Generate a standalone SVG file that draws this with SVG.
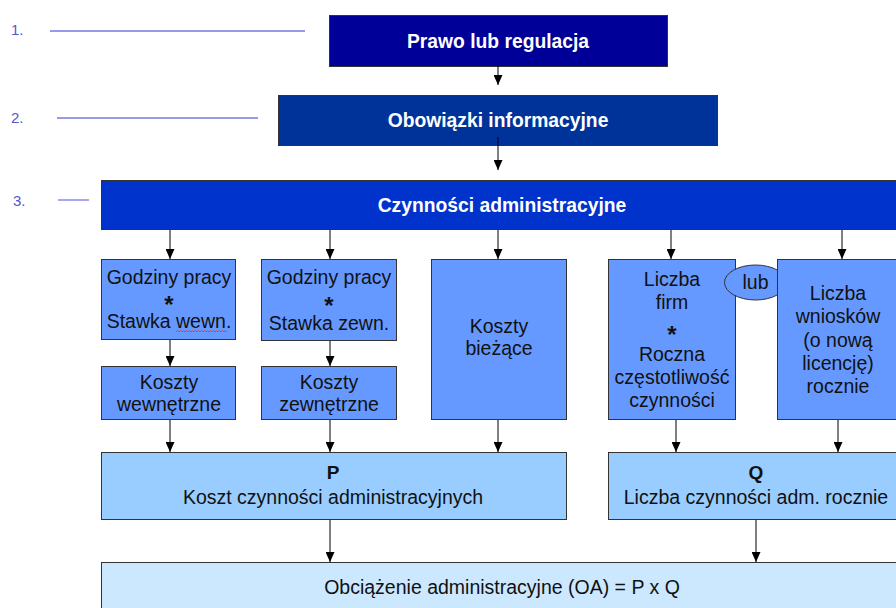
<svg xmlns="http://www.w3.org/2000/svg" width="896" height="608" viewBox="0 0 896 608">
<defs>
<marker id="ah" markerUnits="userSpaceOnUse" markerWidth="10" markerHeight="9" refX="10" refY="4.5" orient="auto" viewBox="0 0 10 9">
<path d="M0,0 L10,4.5 L0,9 Z" fill="#000"/>
</marker>
</defs>
<style>
text{font-family:"Liberation Sans",Arial,sans-serif;text-anchor:middle}
.hd{fill:#fff;font-weight:bold;font-size:19.3px}
.t{fill:#111;font-size:19.5px}
.star{fill:#111;font-size:24px;font-weight:bold}
.b{fill:#111;font-size:19px;font-weight:bold}
.box{fill:#6699FF;stroke:#333;stroke-width:1}
.pq{fill:#99CCFF;stroke:#333;stroke-width:1}
.oa{fill:#CCE8FF;stroke:#333;stroke-width:1}
.num{fill:#5555CC;font-size:15px;text-anchor:start}
.lvl{stroke:#7777E6;stroke-width:1.3}
.c line{stroke:#000;stroke-width:1;marker-end:url(#ah)}
</style>
<rect width="896" height="608" fill="#fff"/>
<g id="levels">
<text class="num" x="11" y="35">1.</text>
<line class="lvl" x1="50" y1="31" x2="305" y2="31"/>
<text class="num" x="11" y="123">2.</text>
<line class="lvl" x1="57" y1="118" x2="258" y2="118"/>
<text class="num" x="13" y="206">3.</text>
<line class="lvl" x1="58" y1="200" x2="89" y2="200"/>
</g>
<g id="prawo"><rect x="329.5" y="15.5" width="338" height="51" fill="#000099" stroke="#333"/><text class="hd" x="498" y="48">Prawo lub regulacja</text></g>
<g id="obowiazki"><rect x="278.5" y="95.5" width="439" height="50" fill="#003399" stroke="#333"/><text class="hd" x="498" y="127">Obowiązki informacyjne</text></g>
<g id="czynnosci"><rect x="101.5" y="180.5" width="800" height="49" fill="#0033CC" stroke="#333"/><text class="hd" x="502" y="212">Czynności administracyjne</text></g>
<g id="godz-wewn"><rect class="box" x="101.5" y="259.5" width="134" height="80"/>
<text class="t" x="169" y="284">Godziny pracy</text><text class="star" x="169" y="313">*</text><text class="t" x="169" y="328">Stawka wewn.</text>
<path d="M176,332 l1.5,-1.5 l1.5,1.5 l1.5,-1.5 l1.5,1.5 l1.5,-1.5 l1.5,1.5 l1.5,-1.5 l1.5,1.5 l1.5,-1.5 l1.5,1.5 l1.5,-1.5 l1.5,1.5 l1.5,-1.5 l1.5,1.5 l1.5,-1.5 l1.5,1.5 l1.5,-1.5 l1.5,1.5 l1.5,-1.5 l1.5,1.5 l1.5,-1.5 l1.5,1.5 l1.5,-1.5 l1.5,1.5 l1.5,-1.5 l1.5,1.5 l1.5,-1.5 l1.5,1.5 l1.5,-1.5 l1.5,1.5 l1.5,-1.5 l1.5,1.5 l1.5,-1.5 l1.5,1.5" fill="none" stroke="#E03030" stroke-width="0.8"/></g>
<g id="godz-zewn"><rect class="box" x="261.5" y="259.5" width="135" height="81"/>
<text class="t" x="329" y="284">Godziny pracy</text><text class="star" x="329" y="314">*</text><text class="t" x="329" y="330">Stawka zewn.</text></g>
<g id="koszty-biezace"><rect class="box" x="431.5" y="259.5" width="135" height="160"/>
<text class="t" x="499" y="333">Koszty</text><text class="t" x="499" y="355">bieżące</text></g>
<g id="liczba-firm"><rect class="box" x="608.5" y="259.5" width="127" height="160"/>
<text class="t" x="672" y="286">Liczba</text><text class="t" x="672" y="309">firm</text><text class="star" x="672" y="343">*</text><text class="t" x="672" y="361">Roczna</text><text class="t" x="672" y="384">częstotliwość</text><text class="t" x="672" y="407">czynności</text></g>
<g id="lub"><ellipse cx="755.5" cy="282.5" rx="31" ry="17.5" fill="#6699FF" stroke="#333"/><text class="t" x="755.5" y="289">lub</text></g>
<g id="liczba-wnioskow"><rect class="box" x="777.5" y="259.5" width="125" height="160"/>
<text class="t" x="838" y="300">Liczba</text><text class="t" x="838" y="323">wniosków</text><text class="t" x="838" y="347">(o nową</text><text class="t" x="838" y="370">licencję)</text><text class="t" x="838" y="393">rocznie</text></g>
<g id="koszty-wewn"><rect class="box" x="101.5" y="366.5" width="134" height="53"/>
<text class="t" x="169" y="389">Koszty</text><text class="t" x="169" y="411">wewnętrzne</text></g>
<g id="koszty-zewn"><rect class="box" x="261.5" y="366.5" width="135" height="53"/>
<text class="t" x="329" y="389">Koszty</text><text class="t" x="329" y="411">zewnętrzne</text></g>
<g id="P"><rect class="pq" x="101.5" y="452.5" width="465" height="67"/>
<text class="b" x="333" y="479">P</text><text class="t" x="333" y="504">Koszt czynności administracyjnych</text></g>
<g id="Q"><rect class="pq" x="608.5" y="452.5" width="294" height="67"/>
<text class="b" x="756" y="479">Q</text><text class="t" x="756" y="504">Liczba czynności adm. rocznie</text></g>
<g id="OA"><rect class="oa" x="101.5" y="562.5" width="800" height="50"/>
<text class="t" x="502" y="594">Obciążenie administracyjne (OA)  = P x Q</text></g>
<g id="connectors" class="c">
<line x1="498" y1="66" x2="498" y2="85"/>
<line x1="498" y1="137" x2="498" y2="170"/>
<line x1="170" y1="230" x2="170" y2="259"/>
<line x1="330" y1="230" x2="330" y2="259"/>
<line x1="498" y1="230" x2="498" y2="259"/>
<line x1="671" y1="230" x2="671" y2="259"/>
<line x1="842" y1="230" x2="842" y2="259"/>
<line x1="170" y1="340" x2="170" y2="366"/>
<line x1="330" y1="341" x2="330" y2="366"/>
<line x1="170" y1="420" x2="170" y2="452"/>
<line x1="330" y1="420" x2="330" y2="452"/>
<line x1="498" y1="420" x2="498" y2="452"/>
<line x1="676" y1="420" x2="676" y2="452"/>
<line x1="838" y1="420" x2="838" y2="452"/>
<line x1="330" y1="520" x2="330" y2="562"/>
<line x1="756" y1="520" x2="756" y2="562"/>
</g>
</svg>
